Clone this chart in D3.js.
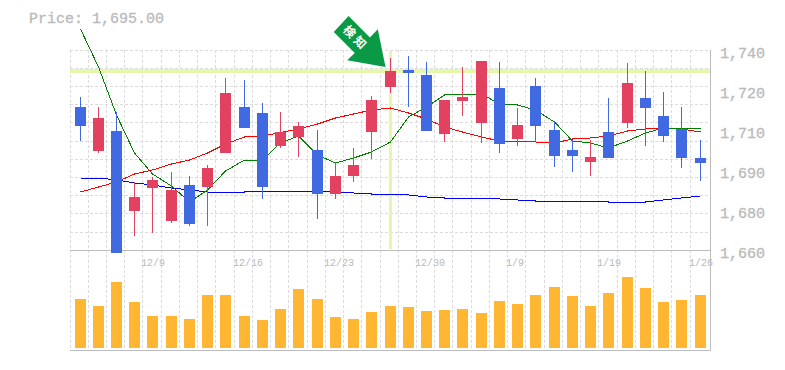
<!DOCTYPE html>
<html>
<head>
<meta charset="utf-8">
<script src="https://cdnjs.cloudflare.com/ajax/libs/d3/7.8.5/d3.min.js"></script>
<style>
  html, body { margin: 0; padding: 0; background: #fff; }
  svg { display: block; }
  text { font-family: "Liberation Mono", "DejaVu Sans Mono", monospace; fill: #bababa; }
</style>
</head>
<body>
<div id="chart"></div>
<script>

const width = 785,
  height = 370;

// Price, one entry per trading day
const open  = [ 1717.2, 1699.6, 1707.6, 1675.7, 1684.8, 1671.6, 1686, 1685.2, 1698.8, 1717.2, 1714.8, 1701.6, 1705.2, 1700, 1682.5, 1689.6, 1707.2, 1725.2, 1732, 1730, 1706.4, 1719.6, 1710.8, 1724.8, 1704.4, 1725.6, 1708, 1700, 1695.2, 1707.2, 1710.8, 1720.8, 1713.6, 1708.4, 1696.8 ];
const high  = [ 1721.2, 1717.2, 1715.2, 1687.2, 1689.2, 1691.2, 1689.6, 1694, 1728.8, 1728, 1718.8, 1715.2, 1711.2, 1708, 1695.2, 1700.8, 1721.6, 1736.8, 1737.6, 1735.2, 1720, 1733.2, 1735.6, 1735.2, 1716.8, 1728.8, 1711.6, 1704, 1704, 1720.8, 1734.8, 1731.6, 1723.2, 1717.2, 1704 ];
const low   = [ 1703.6, 1698.8, 1658.9, 1665.6, 1666.8, 1670.8, 1669.6, 1669.6, 1698.8, 1708.8, 1680.4, 1700.8, 1697.2, 1672.4, 1680.4, 1687.2, 1696.4, 1722.8, 1717.2, 1707.6, 1703.2, 1713.6, 1702.8, 1698.8, 1701.6, 1703.2, 1693.2, 1691.2, 1689.6, 1696.8, 1708.8, 1701.6, 1703.2, 1692.8, 1687.6 ];
const close = [ 1709.6, 1712.8, 1658.9, 1681.2, 1688, 1684, 1670.4, 1692.8, 1722.8, 1708.8, 1685.2, 1707.2, 1709.6, 1682.5, 1689.6, 1694, 1720, 1731.6, 1730.8, 1707.6, 1720, 1721.2, 1735.6, 1702.4, 1710, 1709.6, 1697.6, 1697.6, 1697.2, 1696.8, 1726.8, 1716.8, 1705.6, 1696.8, 1694.8 ];

const maShort = [ 1748.4, 1733.2, 1714, 1698.8, 1690.4, 1685.6, 1679.2, 1684, 1691.6, 1696, 1696, 1702.8, 1705.6, 1698, 1694.8, 1696.8, 1699.2, 1703.2, 1713.2, 1717.2, 1722, 1722.4, 1722.4, 1718.4, 1718, 1716, 1711.2, 1703.6, 1702.8, 1700.8, 1703.6, 1706.8, 1708.8, 1708.8, 1708.4 ];
const maMid   = [ 1683.2, 1685.2, 1687.2, 1690.4, 1692, 1694.4, 1696, 1698.8, 1702.4, 1705.2, 1705.6, 1707, 1708.4, 1710.4, 1712.8, 1714.4, 1716, 1716.8, 1714.8, 1712.4, 1709.2, 1707.2, 1705.2, 1703.6, 1703.6, 1703.2, 1702.8, 1704.4, 1704.8, 1705.6, 1707.6, 1708.4, 1708.8, 1708.4, 1707.2 ];
const maLong  = [ 1688.8, 1688.8, 1688, 1686.8, 1686, 1684.8, 1684, 1683.2, 1683.2, 1683.2, 1683.6, 1683.6, 1683.6, 1683.6, 1683.2, 1682.8, 1682.4, 1682.4, 1682, 1681.2, 1680.8, 1680.8, 1680.8, 1680.4, 1680, 1679.6, 1679.6, 1679.6, 1679.6, 1679.2, 1679.2, 1679.2, 1680, 1680.8, 1681.6 ];

const volume = [ 49000, 42000, 66000, 46000, 32000, 32000, 29000, 53000, 53000, 32000, 28000, 39000, 59000, 49000, 31000, 29000, 36000, 42000, 41000, 37000, 38000, 39000, 35000, 47000, 44000, 53000, 61000, 52000, 42000, 55000, 71000, 60000, 46000, 48000, 53000 ];

const tickIndex = [ 4, 9, 14, 19, 24, 29, 34 ];
const tickLabels = [ '12/9', '12/16', '12/23', '12/30', '1/9', '1/19', '1/26' ];

const priceTicks = [ 1740, 1724, 1708, 1692, 1676, 1660 ];
const priceLabels = [ '1,740', '1,720', '1,710', '1,690', '1,680', '1,660' ];

const lastPrice = 'Price: 1,695.00';
const signalIndex = 17;
const signalLabel = '検知';

const margin = { left: 70, right: 710, top: 50, mid: 250, bottom: 350 },
  bodyWidth = 11,
  barWidth = 11;

const days = d3.range( open.length );

const xScale = d3.scaleBand()
  .domain( days )
  .range( [ 70.882, 709.142 ] );

const yScale = d3.scaleLinear()
  .domain( [ 1660, 1740 ] )
  .range( [ margin.mid, margin.top ] );

const volScale = d3.scaleLinear()
  .domain( [ 0, 100000 ] )
  .range( [ 348, 248 ] );

const col = i => Math.floor( xScale( i ) + xScale.bandwidth() / 2 );
const cx = i => col( i ) + 0.5;

const svg = d3.select( '#chart' )
  .append( 'svg' )
    .attr( 'width', width )
    .attr( 'height', height );

// Dashed grid
const gridH = d3.range( 0, 11 ).map( d => Math.floor( margin.top + d * 18.22 ) + 0.5 );

svg.append( 'g' )
  .selectAll( 'line' )
  .data( gridH )
  .enter()
    .append( 'line' )
    .attr( 'x1', margin.left )
    .attr( 'x2', margin.right )
    .attr( 'y1', d => d )
    .attr( 'y2', d => d )
    .attr( 'stroke', '#dcdcdc' )
    .attr( 'stroke-dasharray', '3 2' );

svg.append( 'g' )
  .selectAll( 'line' )
  .data( days )
  .enter()
    .append( 'line' )
    .attr( 'x1', d => col( d ) - 9.5 )
    .attr( 'x2', d => col( d ) - 9.5 )
    .attr( 'y1', margin.top )
    .attr( 'y2', margin.bottom )
    .attr( 'stroke', '#dcdcdc' )
    .attr( 'stroke-dasharray', '3 2' );

// Signal highlight
svg.append( 'rect' )
  .attr( 'x', margin.left )
  .attr( 'width', margin.right - margin.left )
  .attr( 'y', Math.round( yScale( close[ signalIndex ] ) ) - 2 )
  .attr( 'height', 4 )
  .attr( 'fill', '#e5f7ab' );

svg.append( 'rect' )
  .attr( 'x', cx( signalIndex ) - 1.5 )
  .attr( 'width', 3 )
  .attr( 'y', margin.top + 1 )
  .attr( 'height', 198 )
  .attr( 'fill', '#e5f7ab' );

// Frame
svg.append( 'path' )
  .attr( 'd', d3.line()( [ [ margin.left, margin.mid + 0.5 ], [ margin.right + 0.5, margin.mid + 0.5 ] ] ) )
  .attr( 'stroke', '#bdbdbd' );

svg.append( 'path' )
  .attr( 'd', d3.line()( [ [ margin.right + 0.5, margin.top ], [ margin.right + 0.5, margin.bottom + 0.5 ], [ margin.left, margin.bottom + 0.5 ] ] ) )
  .attr( 'fill', 'none' )
  .attr( 'stroke', '#bdbdbd' );

// Volume bars
svg.append( 'g' )
  .selectAll( 'rect' )
  .data( volume )
  .enter()
    .append( 'rect' )
    .attr( 'x', ( d, i ) => cx( i ) - barWidth / 2 )
    .attr( 'width', barWidth )
    .attr( 'y', d => volScale( d ) )
    .attr( 'height', d => volScale( 0 ) - volScale( d ) )
    .attr( 'fill', '#ffb733' );

// Moving averages, under the candles
const maLine = d3.line()
  .x( ( d, i ) => cx( i ) )
  .y( d => yScale( d ) );

const maSeries = [ [ maLong, '#0000ff' ], [ maMid, '#ff0000' ], [ maShort, '#008000' ] ];

svg.append( 'g' )
  .selectAll( 'path' )
  .data( maSeries )
  .enter()
    .append( 'path' )
    .attr( 'd', d => maLine( d[ 0 ] ) )
    .attr( 'fill', 'none' )
    .attr( 'stroke', d => d[ 1 ] )
    .attr( 'stroke-width', 1 )
    .attr( 'shape-rendering', 'crispEdges' );

// Candles
const candle = svg.append( 'g' )
  .selectAll( 'g' )
  .data( days )
  .enter()
    .append( 'g' )
    .attr( 'fill', d => close[ d ] >= open[ d ] ? '#e24160' : '#4169e1' )
    .attr( 'stroke', d => close[ d ] >= open[ d ] ? '#e24160' : '#4169e1' );

candle.append( 'line' )
  .attr( 'x1', d => cx( d ) )
  .attr( 'x2', d => cx( d ) )
  .attr( 'y1', d => yScale( high[ d ] ) )
  .attr( 'y2', d => yScale( low[ d ] ) )
  .attr( 'stroke-width', 1 );

candle.append( 'rect' )
  .attr( 'x', d => cx( d ) - bodyWidth / 2 )
  .attr( 'width', bodyWidth )
  .attr( 'y', d => Math.round( yScale( Math.max( open[ d ], close[ d ] ) ) ) )
  .attr( 'height', d => Math.round( yScale( Math.min( open[ d ], close[ d ] ) ) ) - Math.round( yScale( Math.max( open[ d ], close[ d ] ) ) ) )
  .attr( 'stroke', 'none' );

// Labels
svg.append( 'text' )
  .attr( 'x', 29 )
  .attr( 'y', 23 )
  .style( 'font-size', '15px' )
  .style( 'stroke', '#bababa' )
  .style( 'stroke-width', 0.3 )
  .text( lastPrice );

svg.append( 'g' )
  .selectAll( 'text' )
  .data( priceTicks )
  .enter()
    .append( 'text' )
    .attr( 'x', 720 )
    .attr( 'y', ( d, i ) => 58 + i * 40 )
    .style( 'font-size', '15px' )
    .style( 'stroke', '#bababa' )
    .style( 'stroke-width', 0.3 )
    .text( ( d, i ) => priceLabels[ i ] );

svg.append( 'g' )
  .selectAll( 'text' )
  .data( tickIndex )
  .enter()
    .append( 'text' )
    .attr( 'x', d => col( d ) - 11 )
    .attr( 'y', 266 )
    .style( 'font-size', '10px' )
    .text( ( d, i ) => tickLabels[ i ] );

// Signal arrow
const tipX = cx( signalIndex ) - 5,
  tipY = yScale( close[ signalIndex ] ) - 4;

svg.append( 'g' )
  .attr( 'transform', 'translate(' + tipX + ',' + tipY + ')' )
  .call( g => g.append( 'path' )
    .attr( 'd', 'M0,0 L-7.7,-37.7 L-15.6,-29.6 L-36.9,-51 L-51.7,-35 L-30.7,-14.1 L-38.3,-6.7 Z' )
    .attr( 'fill', '#0a9a45' ) )
  .call( g => g.append( 'text' )
    .attr( 'transform', 'translate(-29.5,-29) rotate(45)' )
    .attr( 'text-anchor', 'middle' )
    .attr( 'dy', '0.38em' )
    .style( 'font-family', '"Noto Sans CJK JP"' )
    .style( 'font-size', '12px' )
    .style( 'font-weight', 'bold' )
    .style( 'letter-spacing', '3px' )
    .style( 'fill', '#fff' )
    .text( signalLabel ) );

</script>
</body>
</html>
